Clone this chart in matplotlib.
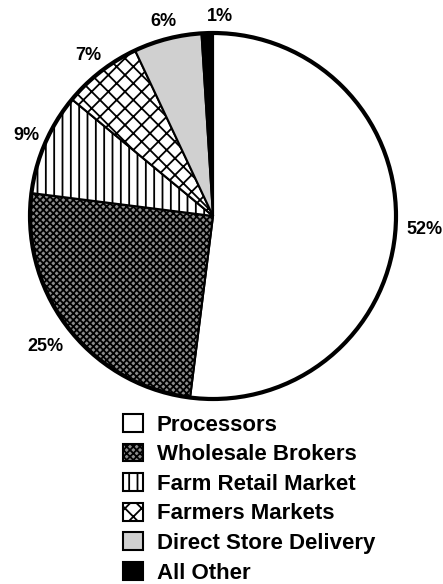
import numpy as np
import matplotlib.pyplot as plt
from matplotlib.patches import Circle

plt.rcParams['font.family'] = ['Liberation Sans', 'DejaVu Sans']
plt.rcParams['font.weight'] = 'bold'
plt.rcParams['hatch.linewidth'] = 1.3

# market channels, share of sales (%)
channels = ['Processors', 'Wholesale Brokers', 'Farm Retail Market',
            'Farmers Markets', 'Direct Store Delivery', 'All Other']
shares = [52, 25, 9, 7, 6, 1]
faces = ['white', '#8c8c8c', 'white', 'white', '#d0d0d0', 'black']
hatches = [None, 'xxxxx', '||', 'xx', None, None]
# how far out each percent label sits (pie radius = 1)
label_r = [1.16, 1.16, 1.11, 1.11, 1.10, 1.09]

fig = plt.figure(figsize=(4.43, 5.84), dpi=100)
ax = fig.add_axes([0, 164 / 584, 1, 420 / 584])

wedges, _ = ax.pie(
    shares, startangle=90, counterclock=False, colors=faces,
    wedgeprops=dict(edgecolor='black', linewidth=1.5))
for w, h in zip(wedges, hatches):
    if h:
        w.set_hatch(h)

# percent labels just outside each slice
for w, val, d in zip(wedges, shares, label_r):
    mid = np.deg2rad((w.theta1 + w.theta2) / 2)
    x, y = d * np.cos(mid), d * np.sin(mid)
    ha = 'center'
    if val == 1:
        ha = 'left'
    ax.text(x, y, '%d%%' % val, ha=ha, va='center',
            fontsize=13, fontweight='bold')

# heavier outer ring
ax.add_patch(Circle((0, 0), 1, fill=False, edgecolor='black', linewidth=3, zorder=5))

r = 183
ax.set_xlim(-213 / r, 230 / r)
ax.set_ylim(-204 / r, 216 / r)
ax.set_aspect('equal')
ax.axis('off')

fig.legend(wedges, channels, loc='upper left',
           bbox_to_anchor=(123 / 443, 1 - 414 / 584),
           frameon=False, borderpad=0, borderaxespad=0,
           handlelength=0.9, handleheight=0.86,
           handletextpad=0.63, labelspacing=0.36,
           prop=dict(weight='bold', size=16))

fig.savefig('out.png', dpi=100)
